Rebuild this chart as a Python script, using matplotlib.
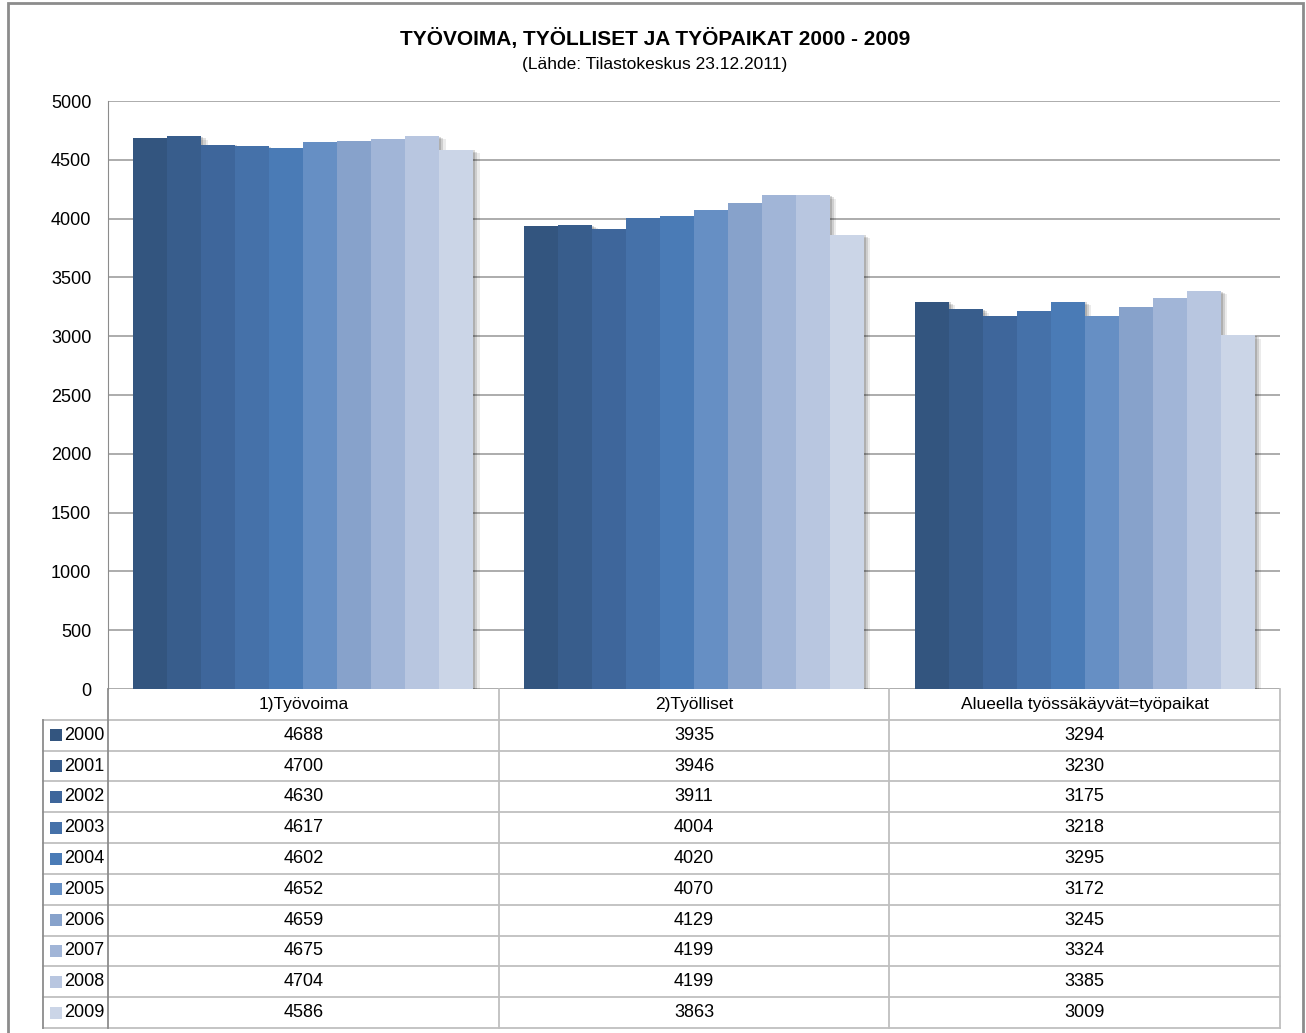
import matplotlib
matplotlib.use("Agg")
import matplotlib.pyplot as plt
import matplotlib.patheffects as pe
from matplotlib.patches import Rectangle
import numpy as np

# Data
categories = ['1)Työvoima', '2)Työlliset', 'Alueella työssäkäyvät=työpaikat']
years = ['2000', '2001', '2002', '2003', '2004', '2005', '2006', '2007', '2008', '2009']
tyovoima = [4688, 4700, 4630, 4617, 4602, 4652, 4659, 4675, 4704, 4586]
tyolliset = [3935, 3946, 3911, 4004, 4020, 4070, 4129, 4199, 4199, 3863]
tyopaikat = [3294, 3230, 3175, 3218, 3295, 3172, 3245, 3324, 3385, 3009]
colors = ['#33557f', '#385d8c', '#3e669b', '#4571a9', '#4a7bb6', '#668fc4',
          '#87a2cb', '#a1b5d7', '#b8c6e0', '#cbd5e7']
yticks = [0, 500, 1000, 1500, 2000, 2500, 3000, 3500, 4000, 4500, 5000]

plt.rcParams['font.family'] = ['Liberation Sans', 'DejaVu Sans']

W, H = 1306, 1033
fig = plt.figure(figsize=(W / 100, H / 100), dpi=100)

# outer frame
fig.add_artist(Rectangle((8 / W, -0.01), (1303 - 8) / W, (H - 3) / H + 0.01,
                         transform=fig.transFigure, fill=False,
                         edgecolor='#8c8c8c', linewidth=2))

fig.text(655 / W, 1 - 38 / H, 'TYÖVOIMA, TYÖLLISET JA TYÖPAIKAT 2000 - 2009',
         ha='center', va='center', fontsize=15, fontweight='bold')
fig.text(655 / W, 1 - 64 / H, '(Lähde: Tilastokeskus 23.12.2011)',
         ha='center', va='center', fontsize=12.5)

# bar chart area
x0, x1, ytop, ybot = 108, 1280, 101, 689
ax = fig.add_axes([x0 / W, 1 - ybot / H, (x1 - x0) / W, (ybot - ytop) / H])
values = np.array([tyovoima, tyolliset, tyopaikat])
n = len(years)
bw = 0.087
x = np.arange(len(categories))
shadow = [pe.SimplePatchShadow(offset=(4.5, -2.5), shadow_rgbFace='#000000', alpha=0.08),
          pe.SimplePatchShadow(offset=(3, -1.5), shadow_rgbFace='#000000', alpha=0.12),
          pe.SimplePatchShadow(offset=(1.5, -0.5), shadow_rgbFace='#000000', alpha=0.15),
          pe.Normal()]
for i, yr in enumerate(years):
    ax.bar(x + (i - (n - 1) / 2) * bw, values[:, i], width=bw, color=colors[i],
           edgecolor='none', zorder=3, path_effects=shadow, label=yr)
ax.set_xlim(-0.5, 2.5)
ax.set_ylim(0, 5000)
ax.set_yticks(yticks)
ax.set_yticklabels([str(t) for t in yticks], fontsize=13)
ax.set_xticks([])
ax.tick_params(axis='y', length=0, pad=12)
ax.grid(axis='y', color='#a6a6a6', linewidth=1.3, zorder=0)
for s in ['top', 'right', 'bottom']:
    ax.spines[s].set_visible(False)
ax.spines['left'].set_color('#8c8c8c')
ax.patch.set_alpha(0)

# data table
tl, tb = 43, 1028
unit = (x1 - x0) / 3.0
xl = -0.5 - (x0 - tl) / unit
tax = fig.add_axes([tl / W, 1 - tb / H, (x1 - tl) / W, (tb - ybot) / H])
tax.set_xlim(xl, 2.5)
tax.set_ylim(n + 1, 0)
tax.axis('off')
light = '#bfbfbf'
dark = '#8c8c8c'
for r in range(1, n + 2):
    tax.plot([xl, 2.5], [r, r], color=light, lw=1.3, clip_on=False)
tax.plot([xl, xl], [1, n + 1], color=dark, lw=1.3, clip_on=False)
tax.plot([-0.5, -0.5], [0, n + 1], color=dark, lw=1.3, clip_on=False)
for c in [0.5, 1.5, 2.5]:
    tax.plot([c, c], [0, n + 1], color=light, lw=1.3, clip_on=False)

for j, cat in enumerate(categories):
    tax.text(j, 0.5, cat, ha='center', va='center', fontsize=12.5)
for i, yr in enumerate(years):
    tax.plot(xl + 13 / unit, i + 1.5, marker='s', markersize=8, color=colors[i],
             markeredgewidth=0, clip_on=False)
    tax.text(xl + 21.5 / unit, i + 1.5, yr, ha='left', va='center', fontsize=13)
    for j in range(len(categories)):
        tax.text(j, i + 1.5, str(values[j, i]), ha='center', va='center', fontsize=13)

fig.savefig('out.png', dpi=100, facecolor='white')
